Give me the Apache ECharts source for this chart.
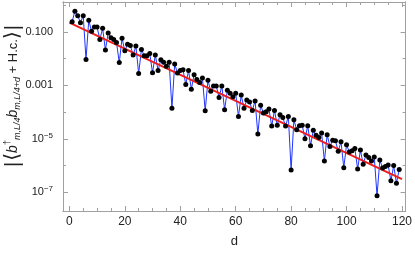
<!DOCTYPE html>
<html>
<head>
<meta charset="utf-8">
<script src="https://cdn.jsdelivr.net/npm/echarts@6/dist/echarts.min.js"></script>
<style>
  html, body { margin: 0; padding: 0; background: #fff; }
  #chart { width: 415px; height: 253px; }
</style>
</head>
<body>
<div id="chart"></div>
<script>
// distance d
const dValues = [
  1, 2, 3, 4, 5, 6, 7, 8, 9, 10, 11, 12, 13, 14, 15, 16, 17, 18, 19, 20,
  21, 22, 23, 24, 25, 26, 27, 28, 29, 30, 31, 32, 33, 34, 35, 36, 37, 38, 39, 40,
  41, 42, 43, 44, 45, 46, 47, 48, 49, 50, 51, 52, 53, 54, 55, 56, 57, 58, 59, 60,
  61, 62, 63, 64, 65, 66, 67, 68, 69, 70, 71, 72, 73, 74, 75, 76, 77, 78, 79, 80,
  81, 82, 83, 84, 85, 86, 87, 88, 89, 90, 91, 92, 93, 94, 95, 96, 97, 98, 99, 100,
  101, 102, 103, 104, 105, 106, 107, 108, 109, 110, 111, 112, 113, 114, 115, 116, 117, 118, 119
]
// |<b+ b + H.c.>|
const corrValues = [
  2.4e-1, 5.9e-1, 4.0e-1, 2.2e-1, 4.0e-1, 9.3e-3, 2.7e-1, 1.05e-1, 1.5e-1, 1.5e-1,
  5.2e-2, 1.35e-1, 2.1e-2, 9.1e-2, 6.0e-2, 5.2e-2, 4.0e-2, 7.1e-3, 5.8e-2, 1.95e-2,
  3.4e-2, 3.1e-2, 1.35e-2, 2.95e-2, 2.75e-3, 2.2e-2, 1.26e-2, 1.26e-2, 1.55e-2, 2.95e-3,
  1.35e-2, 3.6e-3, 9.1e-3, 7.2e-3, 5.2e-3, 7.2e-3, 1.38e-4, 6.2e-3, 2.9e-3, 3.6e-3,
  3.8e-3, 1.07e-3, 3.6e-3, 7.1e-4, 2.5e-3, 1.66e-3, 1.26e-3, 1.86e-3, 1.12e-4, 1.55e-3,
  6.0e-4, 9.5e-4, 9.5e-4, 3.5e-4, 9.5e-4, 1.23e-4, 6.6e-4, 5.0e-4, 3.7e-4, 5.0e-4,
  6.8e-5, 4.3e-4, 1.38e-4, 2.8e-4, 2.4e-4, 1.15e-4, 2.6e-4, 1.5e-5, 1.8e-4, 9.3e-5,
  1.02e-4, 1.29e-4, 3.0e-5, 1.15e-4, 3.2e-5, 7.9e-5, 6.2e-5, 3.0e-5, 6.8e-5, 6.8e-7,
  5.1e-5, 2.2e-5, 3.1e-5, 3.2e-5, 1.0e-5, 3.1e-5, 5.5e-6, 2.1e-5, 1.35e-5, 1.12e-5,
  1.66e-5, 1.48e-6, 1.41e-5, 5.2e-6, 8.9e-6, 8.5e-6, 3.4e-6, 7.8e-6, 8.3e-7, 6.0e-6,
  3.2e-6, 3.6e-6, 4.3e-6, 7.4e-7, 3.8e-6, 1.12e-6, 2.5e-6, 2.0e-6, 1.48e-6, 2.1e-6,
  7.4e-8, 1.62e-6, 8.1e-7, 9.3e-7, 1.05e-6, 2.7e-7, 1.0e-6, 2.2e-7, 7.1e-7
]
// red fit line end points
const fitX = [0, 120]
const fitY = [0.22, 3.1e-7]

// axis ticks
const xLabelTicks = [0, 20, 40, 60, 80, 100, 120]
const xMinorTicks = [0, 5, 10, 15, 20, 25, 30, 35, 40, 45, 50, 55, 60, 65, 70, 75, 80, 85, 90, 95, 100, 105, 110, 115, 120]
const yLabelTicks = [1e-1, 1e-3, 1e-5, 1e-7]
const yDecadeTicks = [1, 1e-1, 1e-2, 1e-3, 1e-4, 1e-5, 1e-6, 1e-7]

const xMin = -2.3
const xMax = 121.3
const yMin = 2.0e-8
const yMax = 1.3

const frameColor = '#a0a0a0'
const textColor = '#222'
const fontFamily = '"Liberation Sans", Arial, sans-serif'

const chart = echarts.init( document.getElementById( 'chart' ) )

function yLabel( v ) {
  const e = Math.round( Math.log10( v ) )
  if ( e >= -3 ) {
    return v.toFixed( 3 )
  }
  return '{b|10}{s|−' + Math.abs( e ) + '}'
}

function xAxisOf( position, showLabels, ticks, tickLen, showName ) {
  return {
    type : 'value',
    position : position,
    min : xMin,
    max : xMax,
    name : showName ? 'd' : '',
    nameLocation : 'middle',
    nameGap : 24,
    nameTextStyle : { color : textColor, fontSize : 13, fontFamily : fontFamily },
    axisLine : { show : true, onZero : false, lineStyle : { color : frameColor, width : 1 } },
    axisTick : { show : true, inside : true, length : tickLen, customValues : ticks, lineStyle : { color : frameColor } },
    axisLabel : {
      show : showLabels,
      customValues : xLabelTicks,
      margin : 5,
      color : textColor,
      fontSize : 12,
      fontFamily : fontFamily
    },
    splitLine : { show : false }
  }
}

function yAxisOf( position, showLabels, ticks, tickLen ) {
  return {
    type : 'log',
    logBase : 10,
    position : position,
    min : yMin,
    max : yMax,
    axisLine : { show : true, onZero : false, lineStyle : { color : frameColor, width : 1 } },
    axisTick : { show : true, inside : true, length : tickLen, customValues : ticks, lineStyle : { color : frameColor } },
    axisLabel : {
      show : showLabels,
      customValues : yLabelTicks,
      margin : 10,
      color : textColor,
      fontSize : 11,
      fontFamily : fontFamily,
      formatter : yLabel,
      rich : {
        b : { fontSize : 11, color : textColor, fontFamily : fontFamily },
        s : { fontSize : 8, color : textColor, fontFamily : fontFamily, padding : [0, 0, 7, 0] }
      }
    },
    splitLine : { show : false }
  }
}

const corrData = dValues.map( ( d, i ) => [d, corrValues[i]] )
const fitData = fitX.map( ( d, i ) => [d, fitY[i]] )

chart.setOption( {
  animation : false,
  backgroundColor : '#ffffff',
  grid : {
    left : 63,
    right : 8,
    top : 2,
    bottom : 39
  },
  xAxis : [
    xAxisOf( 'bottom', true, xLabelTicks, 5, true ),
    xAxisOf( 'top', false, xLabelTicks, 5, false ),
    xAxisOf( 'bottom', false, xMinorTicks, 3, false ),
    xAxisOf( 'top', false, xMinorTicks, 3, false )
  ],
  yAxis : [
    yAxisOf( 'left', true, yLabelTicks, 5 ),
    yAxisOf( 'right', false, yLabelTicks, 5 ),
    yAxisOf( 'left', false, yDecadeTicks, 3 ),
    yAxisOf( 'right', false, yDecadeTicks, 3 )
  ],
  graphic : [
    {
      type : 'text',
      x : 13,
      y : 96,
      rotation : Math.PI / 2,
      style : {
        text : '{bar||}{ang|⟨}{it|b}{sup|†}{sub|m,L/4}{it|b}{sub|m,L/4+d}{n| + H.c.}{ang|⟩}{bar||}',
        align : 'center',
        verticalAlign : 'middle',
        fill : textColor,
        rich : {
          bar : { fontSize : 20, fontFamily : fontFamily, fill : textColor, padding : [0, 1, 0, 1] },
          ang : { fontSize : 20, fontFamily : '"DejaVu Sans", sans-serif', fill : textColor },
          it : { fontSize : 14, fontStyle : 'italic', fontFamily : fontFamily, fill : textColor },
          sup : { fontSize : 9, fontFamily : fontFamily, fill : textColor, padding : [0, 0, 10, 0] },
          sub : { fontSize : 9, fontStyle : 'italic', fontFamily : fontFamily, fill : textColor, padding : [8, 0, 0, 0] },
          n : { fontSize : 13, fontFamily : fontFamily, fill : textColor }
        }
      }
    }
  ],
  series : [
    {
      name : 'corr',
      type : 'line',
      data : corrData,
      showSymbol : false,
      symbol : 'none',
      lineStyle : { color : '#1f35ff', width : 1 },
      z : 2
    },
    {
      name : 'fit',
      type : 'line',
      data : fitData,
      showSymbol : false,
      symbol : 'none',
      lineStyle : { color : '#ee1c1c', width : 2 },
      z : 3
    },
    {
      name : 'points',
      type : 'scatter',
      data : corrData,
      symbol : 'circle',
      symbolSize : 5,
      itemStyle : { color : '#000000', opacity : 1 },
      z : 4
    }
  ]
} )
</script>
</body>
</html>
